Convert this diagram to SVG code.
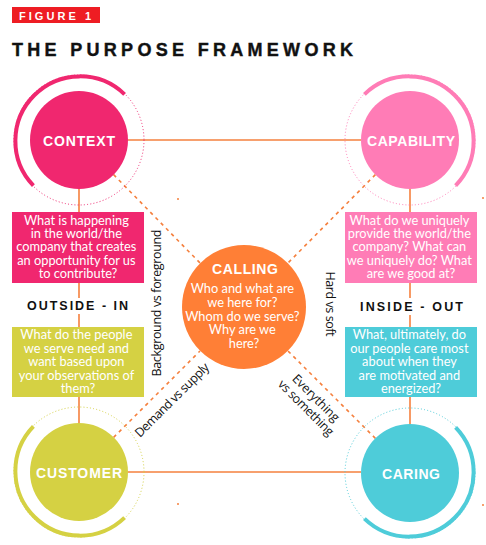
<svg xmlns="http://www.w3.org/2000/svg" width="486" height="545" viewBox="0 0 486 545">
<style>
.bg{fill:#fff}
.conn{stroke:#F5803E;stroke-width:1.6;fill:none}
.dash{stroke:#F5803E;stroke-width:1.6;fill:none;stroke-dasharray:3.5 4}
.ring{fill:none;stroke-width:4}
.dots{fill:none;stroke-width:1;stroke-dasharray:1 2.2}
.lbl{font-family:"Liberation Sans",Arial,sans-serif;font-weight:bold;fill:#fff;font-size:14px}
.box{font-family:Lato,"Open Sans",sans-serif;font-size:12.8px;fill:#fff;text-anchor:middle}
.hd{font-family:"Liberation Sans",Arial,sans-serif;font-weight:bold;font-size:12.5px;fill:#111}
.diag{font-family:"Open Sans","Liberation Sans",sans-serif;font-size:12.5px;fill:#111;text-anchor:middle}
</style>
<rect class="bg" x="0" y="0" width="486" height="545"/>
<g id="header">
<rect x="12" y="7" width="88" height="16" fill="#EE1D23"/>
<text x="19" y="19.5" font-family="Liberation Sans,Arial,sans-serif" font-weight="bold" font-size="11" fill="#fff" textLength="72" lengthAdjust="spacing">FIGURE 1</text>
<text x="12" y="56" font-family="Liberation Sans,Arial,sans-serif" font-weight="bold" font-size="18" fill="#111" stroke="#111" stroke-width="0.4" textLength="341" lengthAdjust="spacing">THE PURPOSE FRAMEWORK</text>
</g>
<g id="connectors">
<line class="conn" x1="128" y1="140" x2="361" y2="140"/>
<line class="conn" x1="128" y1="472" x2="361" y2="472"/>
<line class="conn" x1="79" y1="189" x2="79" y2="212"/>
<line class="conn" x1="79" y1="283" x2="79" y2="298"/>
<line class="conn" x1="79" y1="314" x2="79" y2="327"/>
<line class="conn" x1="79" y1="397" x2="79" y2="423"/>
<line class="conn" x1="410" y1="189" x2="410" y2="212"/>
<line class="conn" x1="410" y1="283" x2="410" y2="298"/>
<line class="conn" x1="410" y1="315" x2="410" y2="327"/>
<line class="conn" x1="410" y1="397" x2="410" y2="424"/>
<line class="dash" x1="113.6" y1="174.6" x2="200" y2="263"/>
<line class="dash" x1="375.4" y1="174.6" x2="288" y2="263"/>
<line class="dash" x1="113.6" y1="437.4" x2="200" y2="351"/>
<line class="dash" x1="375.4" y1="438.4" x2="288" y2="351"/>
<circle cx="178" cy="199" r="1" fill="#F5803E"/>
<circle cx="483" cy="198" r="1" fill="#F5803E"/>
<circle cx="178" cy="504" r="1" fill="#F5803E"/>
<circle cx="483" cy="505" r="1" fill="#F5803E"/>
</g>
<g id="context">
<circle class="dots" cx="79" cy="140" r="65" stroke="#F0276F"/>
<path class="ring" stroke="#F0276F" d="M124.6,94.4 A64.5,64.5 0 0 0 33.4,185.6"/>
<circle cx="79" cy="140" r="49" fill="#F0276F"/>
<text class="lbl" x="43" y="146" textLength="72" lengthAdjust="spacing">CONTEXT</text>
</g>
<g id="capability">
<circle class="dots" cx="410" cy="140" r="65" stroke="#FF7CB6"/>
<path class="ring" stroke="#FF7CB6" d="M364.4,94.4 A64.5,64.5 0 0 1 455.6,185.6"/>
<circle cx="410" cy="140" r="49" fill="#FF7CB6"/>
<text class="lbl" x="367" y="146" textLength="88" lengthAdjust="spacing">CAPABILITY</text>
</g>
<g id="customer">
<circle class="dots" cx="79" cy="472" r="65" stroke="#D5D143"/>
<path class="ring" stroke="#D5D143" d="M33.4,426.4 A64.5,64.5 0 0 0 124.6,517.6"/>
<circle cx="79" cy="472" r="49" fill="#D5D143"/>
<text class="lbl" x="36" y="478" textLength="86" lengthAdjust="spacing">CUSTOMER</text>
</g>
<g id="caring">
<circle class="dots" cx="410" cy="473" r="65" stroke="#4ECCD9"/>
<path class="ring" stroke="#4ECCD9" d="M455.6,427.4 A64.5,64.5 0 0 1 364.4,518.6"/>
<circle cx="410" cy="473" r="49" fill="#4ECCD9"/>
<text class="lbl" x="382" y="479" textLength="58" lengthAdjust="spacing">CARING</text>
</g>
<g id="calling">
<circle cx="244" cy="307" r="62" fill="#FF7F36"/>
<text class="lbl" x="212" y="274" textLength="66" lengthAdjust="spacing">CALLING</text>
<text class="box" font-size="12.8">
<tspan x="244" y="293">Who and what are</tspan>
<tspan x="244" y="307">we here for?</tspan>
<tspan x="244" y="320.5">Whom do we serve?</tspan>
<tspan x="244" y="334">Why are we</tspan>
<tspan x="244" y="347.5">here?</tspan>
</text>
</g>
<g id="context-question">
<rect x="12" y="212" width="132" height="71" fill="#F0276F"/>
<text class="box">
<tspan x="78" y="224.5">What is happening</tspan>
<tspan x="78" y="238">in the world/the</tspan>
<tspan x="78" y="251.3">company that creates</tspan>
<tspan x="78" y="264.6">an opportunity for us</tspan>
<tspan x="78" y="278">to contribute?</tspan>
</text>
</g>
<g id="customer-question">
<rect x="12" y="327" width="132" height="70" fill="#D5D143"/>
<text class="box">
<tspan x="78" y="339">What do the people</tspan>
<tspan x="78" y="352.5">we serve need and</tspan>
<tspan x="78" y="366">want based upon</tspan>
<tspan x="78" y="379.5">your observations of</tspan>
<tspan x="78" y="393">them?</tspan>
</text>
</g>
<g id="capability-question">
<rect x="345" y="212" width="132" height="71" fill="#FF7CB6"/>
<text class="box">
<tspan x="411" y="224.5">What do we uniquely</tspan>
<tspan x="411" y="238">provide the world/the</tspan>
<tspan x="411" y="251.3">company? What can</tspan>
<tspan x="411" y="264.6">we uniquely do? What</tspan>
<tspan x="411" y="278">are we good at?</tspan>
</text>
</g>
<g id="caring-question">
<rect x="345" y="327" width="132" height="70" fill="#4ECCD9"/>
<text class="box">
<tspan x="411" y="339">What, ultimately, do</tspan>
<tspan x="411" y="352.5">our people care most</tspan>
<tspan x="411" y="366">about when they</tspan>
<tspan x="411" y="379.5">are motivated and</tspan>
<tspan x="411" y="393">energized?</tspan>
</text>
</g>
<g id="outside-in">
<text class="hd" x="27" y="310" textLength="101" lengthAdjust="spacing">OUTSIDE - IN</text>
</g>
<g id="inside-out">
<text class="hd" x="360" y="311" textLength="103" lengthAdjust="spacing">INSIDE - OUT</text>
</g>
<g id="diagonal-labels">
<text class="diag" transform="translate(161,303) rotate(-90)" textLength="147" lengthAdjust="spacing">Background vs foreground</text>
<text class="diag" transform="translate(326,304) rotate(90)" textLength="65" lengthAdjust="spacing">Hard vs soft</text>
<text class="diag" transform="translate(175,403) rotate(-45)" textLength="99" lengthAdjust="spacing">Demand vs supply</text>
<text class="diag" transform="translate(313,401) rotate(45)"><tspan x="0" y="0" textLength="61" lengthAdjust="spacing">Everything</tspan><tspan x="0" y="14" textLength="73" lengthAdjust="spacing">vs something</tspan></text>
</g>
</svg>
